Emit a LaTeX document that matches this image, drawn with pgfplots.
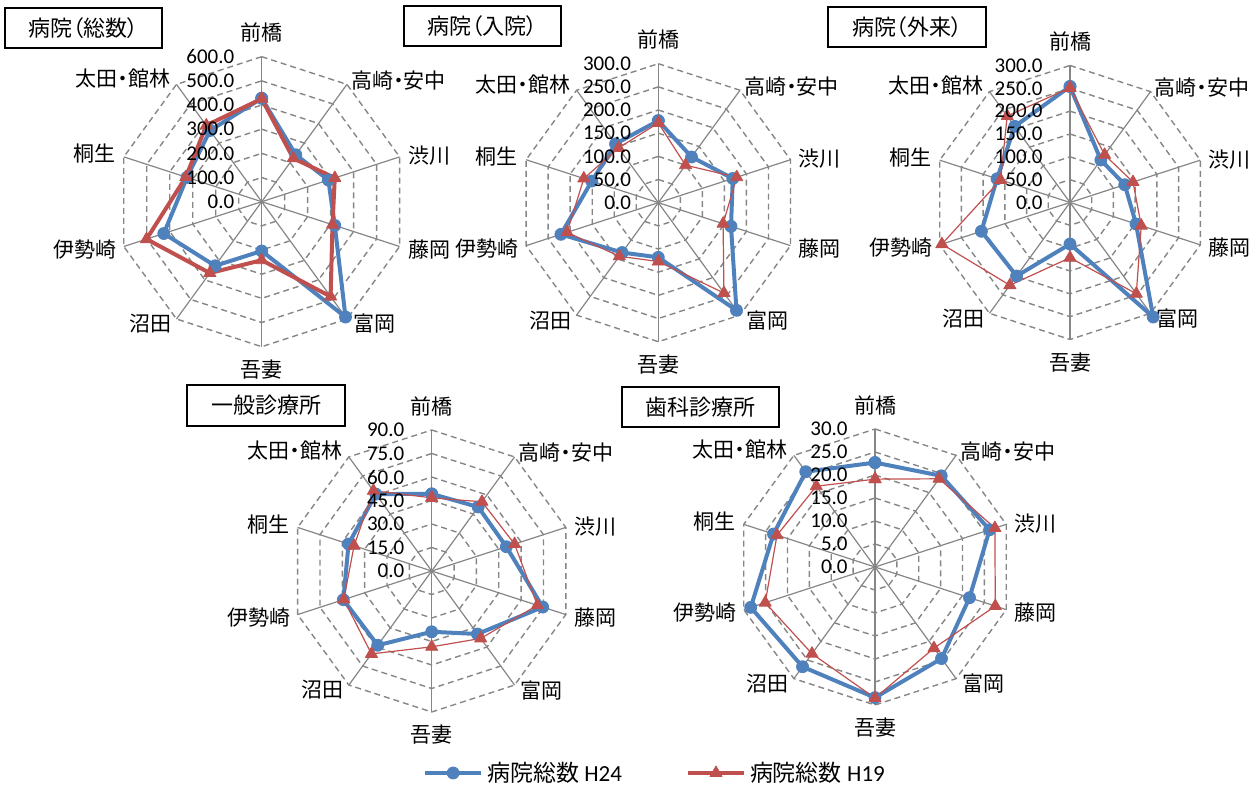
\documentclass[border=0pt]{standalone}
\usepackage{fontspec}
\setmainfont{Carlito}
\newfontfamily\jp{Noto Sans CJK JP}
\newfontfamily\jpp{Noto Sans CJK JP}[RawFeature=+palt]
\usepackage{pgfplots}
\pgfplotsset{compat=1.18}
\usepgfplotslibrary{polar}

\definecolor{h24}{RGB}{79,129,189}
\definecolor{h19}{RGB}{192,80,77}
\definecolor{gridgray}{RGB}{134,134,134}

\pgfplotsset{
  radar/.style={hide axis, scale only axis, clip=false, xmin=0, xmax=360, ymin=0, anchor=center},
  blueline/.style={h24, line width=2pt, line join=round, mark=*, mark size=3pt,
    mark options={solid, fill=h24, draw=h24, line width=0.4pt}},
  redthin/.style={h19, line width=0.6pt, line join=round, mark=triangle*, mark size=3.5pt,
    mark options={solid, fill=h19, draw=h19, line width=0.4pt}},
  redthick/.style={redthin, line width=2pt},
}

% grid of one radar: centre x, centre y (pixels from top), radius
\newcommand\radargrid[3]{%
  \begin{scope}[shift={(#1,787-#2)}]
    \foreach \k in {1,...,6}{
      \draw[gridgray, line width=0.7pt, dash pattern=on 3pt off 2pt]
        (90:{#3*\k/6}) -- (54:{#3*\k/6}) -- (18:{#3*\k/6}) -- (-18:{#3*\k/6})
        -- (-54:{#3*\k/6}) -- (-90:{#3*\k/6}) -- (-126:{#3*\k/6})
        -- (-162:{#3*\k/6}) -- (162:{#3*\k/6}) -- (126:{#3*\k/6}) -- cycle;}
    \foreach \a in {90,54,...,-234} \draw[gridgray, line width=0.6pt] (0,0) -- (\a:#3);
  \end{scope}}

% tick and category labels
\newcommand\radarlabels[4]{%
  \begin{scope}[shift={(#1,787-#2)}, every node/.style={inner sep=0pt, font=\jpp\fontsize{10.5}{12}\selectfont}]
    \foreach \t [count=\i from 0] in {#4}
      \node[anchor=east, font=\fontsize{10.5}{12}\selectfont] at (-27,{\i*#3/6}) {\t};
    \node[yshift=12pt] at (90:#3) {前橋};
    \node[anchor=west, xshift=2pt, yshift=2pt] at (54:#3) {高崎・安中};
    \node[anchor=west, xshift=4pt, yshift=0.5pt] at (18:#3) {渋川};
    \node[anchor=west, xshift=4pt, yshift=-1.5pt] at (-18:#3) {藤岡};
    \node[anchor=west, xshift=3pt, yshift=-2.5pt] at (-54:#3) {富岡};
    \node[yshift=-11.5pt] at (-90:#3) {吾妻};
    \node[anchor=east, xshift=-2.5pt, yshift=-2.5pt] at (-126:#3) {沼田};
    \node[anchor=east, xshift=-3.5pt, yshift=-1.5pt] at (-162:#3) {伊勢崎};
    \node[anchor=east, xshift=-4pt, yshift=1.5pt] at (162:#3) {桐生};
    \node[anchor=east, xshift=-3pt, yshift=3pt] at (126:#3) {太田・館林};
  \end{scope}}

\newcommand\titlebox[5]{%
  \draw[line width=1pt] (#1,787-#2) rectangle (#3,787-#4);
  \node[font=\jpp\fontsize{11}{13}\selectfont] at ({(#1+#3)/2},{787-(#2+#4)/2}) {#5};}

\begin{document}
\begin{tikzpicture}[x=0.5pt, y=0.5pt]
\useasboundingbox (0,0) rectangle (1258,787);

\radargrid{261.7}{201.7}{145}
\radargrid{658.3}{202.7}{139}
\radargrid{1070}{202.5}{137}
\radargrid{431.7}{571}{141}
\radargrid{875}{567}{138}

% 病院（総数）
\begin{polaraxis}[radar, at={(130.85pt,292.65pt)}, width=145pt, height=145pt, ymax=600]
\addplot[blueline] coordinates {(90,428) (54,240) (18,290) (342,318) (306,590) (270,204) (234,328) (198,426) (162,325) (126,364) (90,428)};
\addplot[redthick] coordinates {(90,426) (54,222) (18,318) (342,308) (306,485) (270,242) (234,365) (198,501) (162,330) (126,390) (90,426)};
\end{polaraxis}

% 病院（入院）
\begin{polaraxis}[radar, at={(329.15pt,292.15pt)}, width=139pt, height=139pt, ymax=300]
\addplot[blueline] coordinates {(90,177) (54,122) (18,169) (342,165) (306,287) (270,118) (234,133) (198,221) (162,151) (126,157) (90,177)};
\addplot[redthin] coordinates {(90,172) (54,100) (18,178) (342,147) (306,241) (270,127) (234,143) (198,207) (162,169) (126,146) (90,172)};
\end{polaraxis}

% 病院（外来）
\begin{polaraxis}[radar, at={(535pt,292.25pt)}, width=137pt, height=137pt, ymax=300]
\addplot[blueline] coordinates {(90,254) (54,115) (18,126) (342,152) (306,310) (270,91) (234,199) (198,204) (162,168) (126,206) (90,254)};
\addplot[redthin] coordinates {(90,251) (54,129) (18,145) (342,164) (306,247) (270,121) (234,224) (198,295) (162,160) (126,234) (90,251)};
\end{polaraxis}

% 一般診療所
\begin{polaraxis}[radar, at={(215.85pt,108pt)}, width=141pt, height=141pt, ymax=90]
\addplot[blueline] coordinates {(90,49.2) (54,50.5) (18,50.1) (342,74.5) (306,49.7) (270,38.8) (234,58.6) (198,59.3) (162,55.8) (126,60.7) (90,49.2)};
\addplot[redthin] coordinates {(90,46.7) (54,54.6) (18,55.6) (342,70.9) (306,53.2) (270,48.4) (234,65.4) (198,59.0) (162,52.1) (126,63.3) (90,46.7)};
\end{polaraxis}

% 歯科診療所
\begin{polaraxis}[radar, at={(437.5pt,110pt)}, width=138pt, height=138pt, ymax=30]
\addplot[blueline] coordinates {(90,22.7) (54,24.5) (18,26.2) (342,21.6) (306,24.6) (270,28.4) (234,26.8) (198,28.4) (162,23.2) (126,25.6) (90,22.7)};
\addplot[redthin] coordinates {(90,19.1) (54,23.7) (18,27.4) (342,27.5) (306,21.8) (270,28.5) (234,23.3) (198,25.1) (162,22.4) (126,21.7) (90,19.1)};
\end{polaraxis}

% legend
\begin{axis}[at={(328pt,7pt)}, anchor=center, hide axis, scale only axis, width=10pt, height=10pt,
  xmin=0, xmax=1, ymin=0, ymax=1, legend columns=2,
  legend style={draw=none, fill=none, at={(0.5,0.5)}, anchor=center,
    font=\fontsize{11.5}{13}\selectfont, /tikz/every even column/.append style={column sep=30pt}},
  legend image code/.code={\draw[mark repeat=2, mark phase=2, #1] plot coordinates {(0pt,0pt) (14pt,0pt) (28pt,0pt)};}]
\addlegendimage{blueline}
\addlegendentry{{\jp 病院総数} H24}
\addlegendimage{redthick}
\addlegendentry{{\jp 病院総数} H19}
\end{axis}

\radarlabels{261.7}{201.7}{145}{0.0,100.0,200.0,300.0,400.0,500.0,600.0}
\radarlabels{658.3}{202.7}{139}{0.0,50.0,100.0,150.0,200.0,250.0,300.0}
\radarlabels{1070}{202.5}{137}{0.0,50.0,100.0,150.0,200.0,250.0,300.0}
\radarlabels{431.7}{571}{141}{0.0,15.0,30.0,45.0,60.0,75.0,90.0}
\radarlabels{875}{567}{138}{0.0,5.0,10.0,15.0,20.0,25.0,30.0}

\titlebox{5}{8}{162}{48}{病院（総数）}
\titlebox{404}{6}{561}{46}{病院（入院）}
\titlebox{828}{7}{986}{47}{病院（外来）}
\titlebox{187}{385}{345}{426}{一般診療所}
\titlebox{622}{387}{779}{427}{歯科診療所}
\end{tikzpicture}
\end{document}
